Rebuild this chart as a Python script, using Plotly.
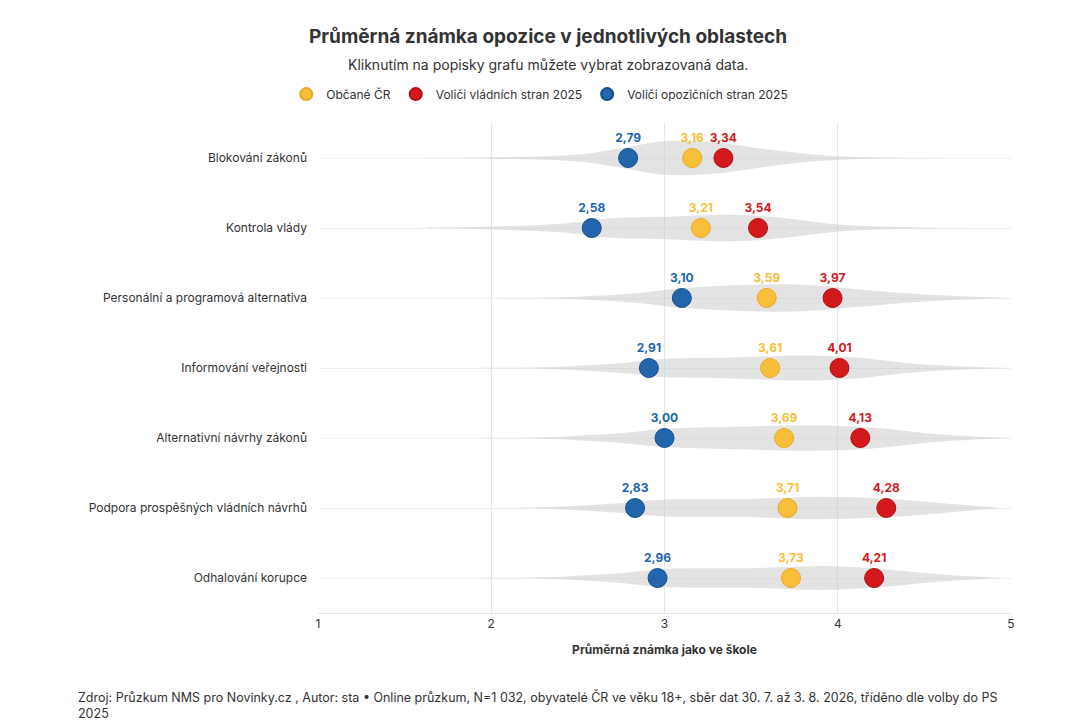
import plotly.graph_objects as go

categories = ["Blokování zákonů", "Kontrola vlády", "Personální a programová alternativa",
              "Informování veřejnosti", "Alternativní návrhy zákonů",
              "Podpora prospěšných vládních návrhů", "Odhalování korupce"]
obcane = [3.16, 3.21, 3.59, 3.61, 3.69, 3.71, 3.73]
vladni = [3.34, 3.54, 3.97, 4.01, 4.13, 4.28, 4.21]
opozicni = [2.79, 2.58, 3.10, 2.91, 3.00, 2.83, 2.96]

# distribution outlines: (grade, half-width in row units)
violins = [
    [(1.6, 0), (2.0, 0.01), (2.5, 0.05), (2.75, 0.14), (3.0, 0.24), (3.3, 0.22), (3.6, 0.12), (3.9, 0.04), (4.2, 0.01), (4.9, 0)],
    [(1.6, 0), (2.0, 0.02), (2.4, 0.06), (2.7, 0.14), (3.0, 0.16), (3.4, 0.19), (3.7, 0.14), (4.0, 0.05), (4.4, 0.01), (4.9, 0)],
    [(2.0, 0), (2.4, 0.01), (2.8, 0.06), (3.1, 0.14), (3.5, 0.19), (3.8, 0.19), (4.1, 0.13), (4.5, 0.05), (5.0, 0)],
    [(1.9, 0), (2.3, 0.01), (2.7, 0.06), (3.0, 0.13), (3.4, 0.15), (3.8, 0.18), (4.1, 0.15), (4.5, 0.05), (5.0, 0)],
    [(1.9, 0), (2.3, 0.01), (2.7, 0.06), (3.0, 0.13), (3.4, 0.16), (3.9, 0.18), (4.2, 0.15), (4.6, 0.05), (5.0, 0)],
    [(2.0, 0), (2.3, 0.01), (2.7, 0.06), (3.0, 0.12), (3.5, 0.13), (3.9, 0.16), (4.3, 0.13), (4.7, 0.05), (4.95, 0)],
    [(1.9, 0), (2.3, 0.01), (2.7, 0.06), (3.0, 0.13), (3.5, 0.14), (3.9, 0.17), (4.2, 0.14), (4.6, 0.05), (4.95, 0)],
]

ypos = list(range(len(categories) - 1, -1, -1))
fig = go.Figure()

for prof, y in zip(violins, ypos):
    xs = [p[0] for p in prof] + [p[0] for p in prof[::-1]]
    ys = [y + p[1] for p in prof] + [y - p[1] for p in prof[::-1]]
    fig.add_trace(go.Scatter(x=xs, y=ys, fill="toself", mode="lines", line=dict(width=0, shape="spline"),
                             fillcolor="rgba(200,200,200,0.5)", showlegend=False, hoverinfo="skip"))

def fmt(v):
    return f"{v:.2f}".replace(".", ",")

for name, vals, col, edge in [("Občané ČR", obcane, "#f9bf3b", "#e8a820"),
                              ("Voliči vládních stran 2025", vladni, "#d3191c", "#b01012"),
                              ("Voliči opozičních stran 2025", opozicni, "#2166ac", "#174f8a")]:
    fig.add_trace(go.Scatter(x=vals, y=ypos, mode="markers+text", name=name,
                             marker=dict(size=19, color=col, line=dict(width=1, color=edge)),
                             text=[fmt(v) for v in vals], textposition="top center",
                             textfont=dict(color=col, size=12, family="Inter", weight="bold")))

fig.update_layout(
    width=1080, height=720, plot_bgcolor="white", paper_bgcolor="white",
    font=dict(family="Inter", size=12, color="#333"),
    title=dict(text="<b>Průměrná známka opozice v jednotlivých oblastech</b>", x=0.5, y=0.96,
               xanchor="center", yanchor="middle", font=dict(size=19, color="#333")),
    margin=dict(l=310, r=77, t=115, b=115),
    legend=dict(orientation="h", x=0.32, xanchor="center", y=1.059, yanchor="middle",
                font=dict(size=12), itemsizing="constant", itemwidth=30, tracegroupgap=0),
    xaxis=dict(range=[1, 5], tickvals=[1, 2, 3, 4, 5], showgrid=True, gridcolor="#e6e6e6",
               zeroline=False, showline=True, linecolor="#e6e6e6", ticks="", automargin=False,
               title=dict(text="<b>Průměrná známka jako ve škole</b>", font=dict(size=12), standoff=15)),
    yaxis=dict(range=[-0.5, 6.5], tickvals=ypos, ticktext=categories, showgrid=True, automargin=False,
               gridcolor="#efefef", zeroline=False, ticks="", ticklabelstandoff=10),
    annotations=[
        dict(text="Kliknutím na popisky grafu můžete vybrat zobrazovaná data.", xref="paper", yref="paper",
             x=0.332, y=1.12, xanchor="center", yanchor="middle", showarrow=False, font=dict(size=14)),
        dict(text="Zdroj: Průzkum NMS pro Novinky.cz , Autor: sta • Online průzkum, N=1 032, obyvatelé ČR ve věku 18+, sběr dat 30. 7. až 3. 8. 2026, tříděno dle volby do PS<br>2025",
             xref="paper", yref="paper", x=-0.349, y=-0.15, xanchor="left", yanchor="top",
             align="left", showarrow=False, font=dict(size=12.5)),
    ],
)

fig.write_html("out.html")
